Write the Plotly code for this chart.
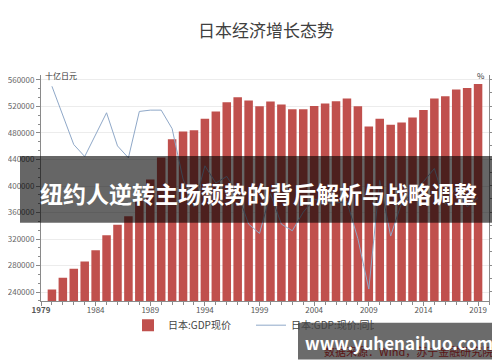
import plotly.graph_objects as go

years = [1980, 1981, 1982, 1983, 1984, 1985, 1986, 1987, 1988, 1989,
         1990, 1991, 1992, 1993, 1994, 1995, 1996, 1997, 1998, 1999,
         2000, 2001, 2002, 2003, 2004, 2005, 2006, 2007, 2008, 2009,
         2010, 2011, 2012, 2013, 2014, 2015, 2016, 2017, 2018, 2019]

gdp_nominal = [243900, 261500, 275000, 286000, 303200, 325800, 341700, 354400, 378000, 410000,
               443200, 470700, 482300, 484300, 501300, 512400, 526400, 533900, 528900, 520400,
               527500, 523000, 515900, 515900, 520800, 524400, 527900, 532000, 520400, 489800,
               501300, 492300, 495900, 503400, 514800, 532000, 535400, 545500, 547900, 553900]

gdp_yoy = [9.5, 7.3, 5.1, 4.2, 5.9, 7.5, 5.0, 4.1, 7.6, 7.7,
           7.7, 6.3, 2.5, 0.4, 3.5, 2.2, 2.7, 1.4, -0.9, -1.6,
           1.4, -0.9, -1.4, 0.0, 1.0, 0.7, 0.7, 0.8, -2.0, -5.8,
           2.4, -1.8, 0.7, 1.5, 2.3, 3.3, 0.6, 1.9, 0.4, 1.1]

x_tick_vals = [1979, 1984, 1989, 1994, 1999, 2004, 2009, 2014, 2019]
x_tick_text = ["<b>1979</b>", "1984", "1989", "1994", "1999", "2004", "2009", "2014", "2019"]

title_text = "日本经济增长态势"
bar_name = "日本:GDP现价"
line_name = "日本:GDP:现价:同比(右轴)"
left_unit = "十亿日元"
right_unit = "%"
source_text = "数据来源：Wind，苏宁金融研究院"
banner_text = "纽约人逆转主场颓势的背后解析与战略调整"
watermark_text = "www.yuhenaihuo.com"

FONT = "Noto Sans CJK SC, Noto Sans, sans-serif"

# pixel helpers for the plot area (500x362 page)
L, R, T, B = 33, 481, 67, 293.3
def px(x):
    return (x - L) / (R - L)
def py(y):
    return (B - y) / (B - T)

fig = go.Figure()
fig.add_bar(x=years, y=gdp_nominal, name=bar_name, marker=dict(color="#C0504D", line=dict(width=0)),
            width=0.78, yaxis="y")
fig.add_scatter(x=years, y=gdp_yoy, name=line_name, mode="lines",
                line=dict(color="#8FA8C8", width=1), yaxis="y2")

axis_col = "#8a8a8a"
fig.update_layout(
    width=500, height=362, autosize=False,
    margin=dict(l=L, r=500 - R, t=T, b=362 - B, autoexpand=False),
    paper_bgcolor="white", plot_bgcolor="white",
    font=dict(family=FONT, color="#555"),
    xaxis=dict(range=[1979, 2020], tickmode="array", tickvals=x_tick_vals, ticktext=x_tick_text,
               ticks="outside", ticklen=4, tickcolor=axis_col, showline=True, linecolor=axis_col,
               showgrid=False, zeroline=False, automargin=False, tickfont=dict(size=8, color="#555"),
               ticklabelstandoff=-3,
               minor=dict(tickmode="array", tickvals=list(range(1979, 2021)), ticks="outside",
                          ticklen=3, tickcolor=axis_col, showgrid=False)),
    yaxis=dict(range=[226500, 567500], tick0=0, dtick=40000, tickformat="d",
               ticks="outside", ticklen=4, tickcolor=axis_col, showline=True, linecolor=axis_col,
               showgrid=True, gridcolor="#ececec", gridwidth=1, zeroline=False, automargin=False,
               tickfont=dict(size=8, color="#666"),
               minor=dict(tick0=240000, dtick=40000 / 3, ticks="outside", ticklen=2,
                          tickcolor=axis_col, showgrid=False)),
    yaxis2=dict(range=[-6.7, 10.35], overlaying="y", side="right", tick0=0, dtick=2,
                ticks="outside", ticklen=3, tickcolor=axis_col, showline=True, linecolor=axis_col,
                showgrid=False, zeroline=False, automargin=False, tickfont=dict(size=8, color="#666"),
                ticklabelstandoff=-2,
                minor=dict(dtick=1, ticks="outside", ticklen=2, tickcolor=axis_col, showgrid=False)),
    showlegend=True,
    legend=dict(orientation="h", x=px(120), xanchor="left", y=py(303), yanchor="top",
                font=dict(size=10, color="#444", family=FONT), bgcolor="rgba(0,0,0,0)",
                traceorder="normal", itemwidth=30, entrywidth=78, entrywidthmode="pixels"),
)

shapes = [
    # banner overlay
    dict(type="rect", xref="paper", yref="paper", x0=px(12), x1=px(488), y0=py(215), y1=py(148),
         fillcolor="rgba(0,0,0,0.6)", line=dict(width=0), layer="above"),
    # watermark box
    dict(type="rect", xref="paper", yref="paper", x0=px(290), x1=px(492), y0=py(352), y1=py(315),
         fillcolor="rgba(0,0,0,0.58)", line=dict(width=0), layer="above"),
]
fig.update_layout(shapes=shapes)

annotations = [
    dict(text=title_text, xref="paper", yref="paper", x=px(258), y=py(21.5), showarrow=False,
         xanchor="center", yanchor="middle", font=dict(size=17, color="#404040", family=FONT)),
    dict(text=left_unit, xref="paper", yref="paper", x=px(35), y=py(67), showarrow=False,
         xanchor="left", yanchor="middle", font=dict(size=8, color="#333", family=FONT)),
    dict(text=right_unit, xref="paper", yref="paper", x=px(479), y=py(67), showarrow=False,
         xanchor="right", yanchor="middle", font=dict(size=8, color="#333", family=FONT)),
    dict(text=source_text, xref="paper", yref="paper", x=px(400), y=py(343), showarrow=False,
         xanchor="center", yanchor="middle", font=dict(size=11, color="rgb(90,20,20)", family=FONT)),
    dict(text="<b>" + banner_text + "</b>", xref="paper", yref="paper", x=px(250), y=py(185),
         showarrow=False, xanchor="center", yanchor="middle",
         font=dict(size=23, color="white", family=FONT)),
    dict(text="<b>" + watermark_text + "</b>", xref="paper", yref="paper", x=px(391), y=py(335),
         showarrow=False, xanchor="center", yanchor="middle",
         font=dict(size=17, color="white", family=FONT)),
]
fig.update_layout(annotations=annotations)

fig.write_html("out.html")
